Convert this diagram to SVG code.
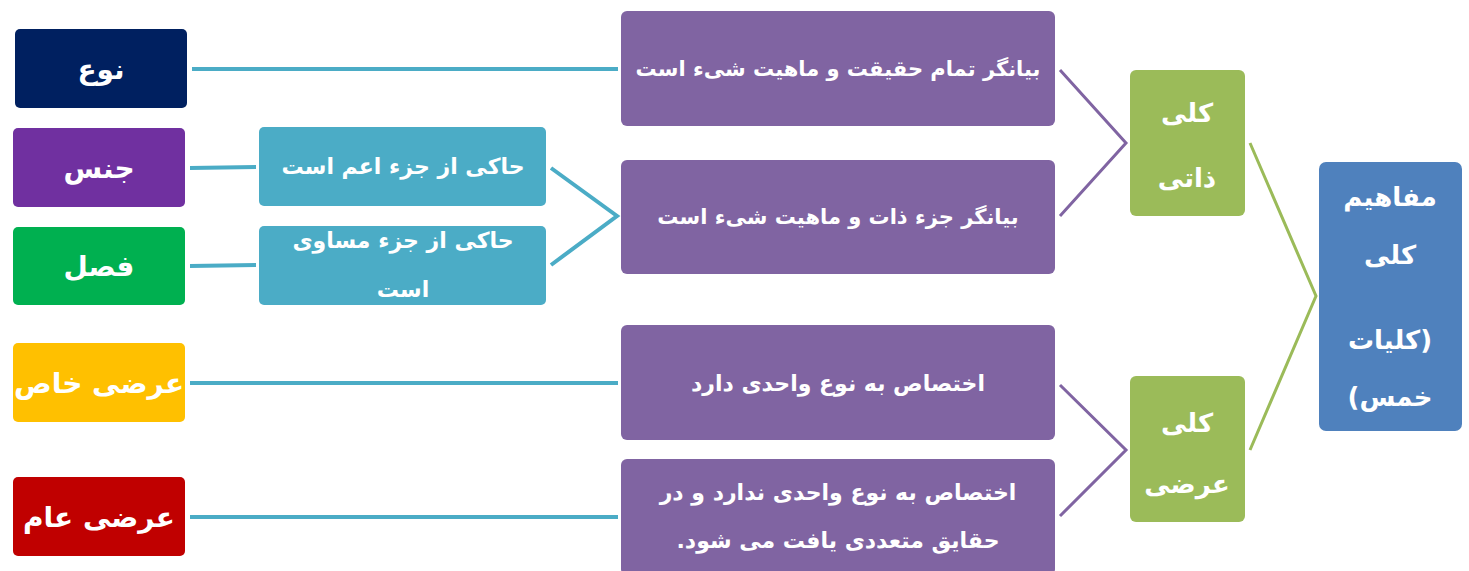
<svg xmlns="http://www.w3.org/2000/svg" width="1469" height="571" viewBox="0 0 1469 571">
<style>
.box{stroke:none}
.t{font-family:"DejaVu Sans",sans-serif;font-weight:bold;fill:#ffffff;text-anchor:middle;dominant-baseline:central;direction:rtl}
.s30{font-size:28px}
.s22{font-size:21px}
.s23{font-size:22px}
.s26{font-size:26px}
.cy{stroke:#4BACC6;stroke-width:4;fill:none}
.pu{stroke:#8064A2;stroke-width:3;fill:none}
.gr{stroke:#9BBB59;stroke-width:3;fill:none}
</style>
<rect width="1469" height="571" fill="#ffffff"/>
<g id="connectors">
<line class="cy" x1="192" y1="69" x2="618" y2="69"/>
<line class="cy" x1="190" y1="168" x2="256" y2="167"/>
<line class="cy" x1="190" y1="266" x2="256" y2="265"/>
<line class="cy" x1="190" y1="383" x2="618" y2="383"/>
<line class="cy" x1="190" y1="517" x2="618" y2="517"/>
<polyline class="cy" points="551,168 617,216 551,265"/>
<polyline class="pu" points="1060,70 1126,143 1060,216"/>
<polyline class="pu" points="1060,385 1126,450 1060,516"/>
<polyline class="gr" points="1250,143 1316,296 1250,450"/>
</g>
<g id="n-naw"><rect class="box" x="15" y="29" width="172" height="79" rx="5" fill="#002060"/><text class="t s30" x="101" y="69">نوع</text></g>
<g id="n-jens"><rect class="box" x="13" y="128" width="172" height="79" rx="5" fill="#7030A0"/><text class="t s30" x="99" y="168">جنس</text></g>
<g id="n-fasl"><rect class="box" x="13" y="227" width="172" height="78" rx="5" fill="#00B050"/><text class="t s30" x="99" y="266">فصل</text></g>
<g id="n-arazikhas"><rect class="box" x="13" y="343" width="172" height="79" rx="5" fill="#FFC000"/><text class="t s30" x="99" y="383">عرضی خاص</text></g>
<g id="n-araziam"><rect class="box" x="13" y="477" width="172" height="79" rx="5" fill="#C00000"/><text class="t s30" x="99" y="517">عرضی عام</text></g>
<g id="n-aam"><rect class="box" x="259" y="127" width="287" height="79" rx="5" fill="#4BACC6"/><text class="t s23" x="403" y="166">حاکی از جزء اعم است</text></g>
<g id="n-mosavi"><rect class="box" x="259" y="226" width="287" height="79" rx="5" fill="#4BACC6"/><text class="t s23" x="403" y="240">حاکی از جزء مساوی</text><text class="t s23" x="403" y="289">است</text></g>
<g id="n-tamam"><rect class="box" x="621" y="11" width="434" height="115" rx="6" fill="#8064A2"/><text class="t s22" x="838" y="69">بیانگر تمام حقیقت و ماهیت شیء است</text></g>
<g id="n-joz"><rect class="box" x="621" y="160" width="434" height="114" rx="6" fill="#8064A2"/><text class="t s22" x="838" y="217">بیانگر جزء ذات و ماهیت شیء است</text></g>
<g id="n-ekhtesas"><rect class="box" x="621" y="325" width="434" height="115" rx="6" fill="#8064A2"/><text class="t s23" x="838" y="383">اختصاص به نوع واحدی دارد</text></g>
<g id="n-nadarad"><rect class="box" x="621" y="459" width="434" height="116" rx="6" fill="#8064A2"/><text class="t s23" x="838" y="492">اختصاص به نوع واحدی ندارد و در</text><text class="t s23" x="838" y="540">حقایق متعددی یافت می شود.</text></g>
<g id="n-zati"><rect class="box" x="1130" y="70" width="115" height="146" rx="6" fill="#9BBB59"/><text class="t s26" x="1187" y="113">کلی</text><text class="t s26" x="1187" y="178">ذاتی</text></g>
<g id="n-arazi"><rect class="box" x="1130" y="376" width="115" height="146" rx="6" fill="#9BBB59"/><text class="t s26" x="1187" y="423">کلی</text><text class="t s26" x="1187" y="484">عرضی</text></g>
<g id="n-mafahim"><rect class="box" x="1319" y="162" width="143" height="269" rx="7" fill="#4F81BD"/><text class="t s26" x="1390" y="197">مفاهیم</text><text class="t s26" x="1390" y="255">کلی</text><text class="t s26" x="1390" y="340">(کلیات</text><text class="t s26" x="1390" y="397">خمس)</text></g>
</svg>
